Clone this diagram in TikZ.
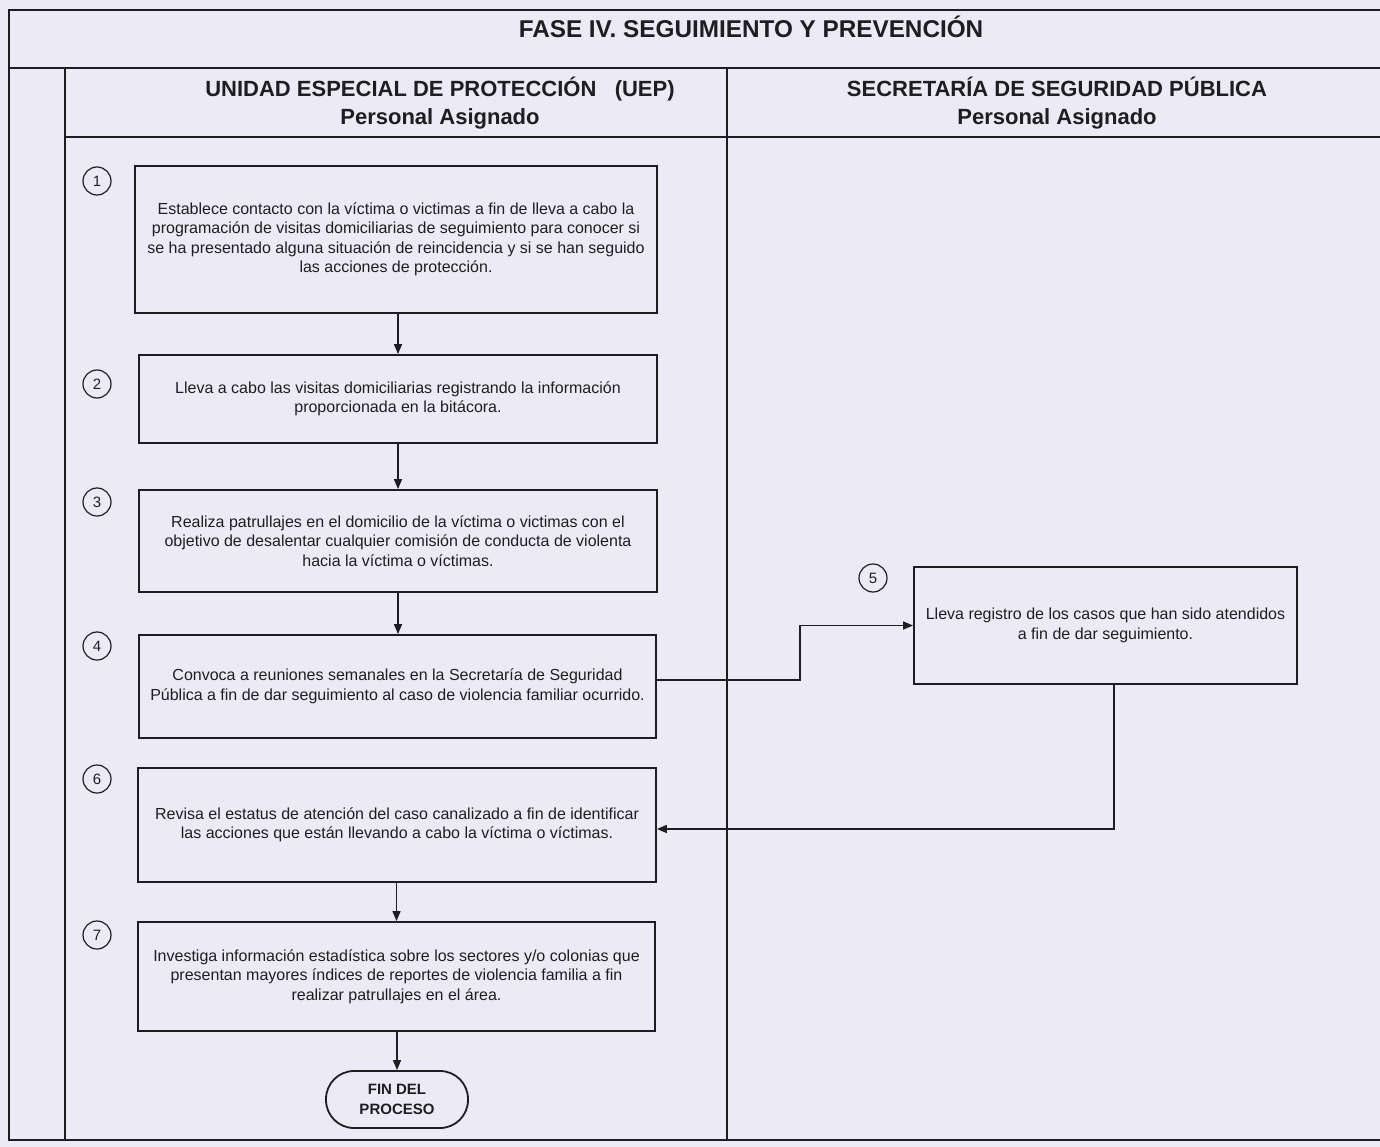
\documentclass[tikz,border=0pt]{standalone}
\usepackage{fontspec}
\setmainfont{Liberation Sans}
\usetikzlibrary{arrows.meta,calc}
\definecolor{bgc}{RGB}{236,235,245}
\definecolor{lnc}{RGB}{30,30,34}
\begin{document}
\begin{tikzpicture}[x=1pt,y=-1pt,
  frame/.style={draw=lnc,line width=2pt},
  stepbox/.style={draw=lnc,line width=1.8pt,align=center,inner sep=0pt,
     font=\fontsize{16}{19.5}\selectfont,text=lnc},
  num/.style={draw=lnc,circle,line width=1.2pt,minimum size=28pt,inner sep=0pt,
     font=\fontsize{15}{16}\selectfont,text=lnc},
  arr/.style={draw=lnc,line width=1.5pt,-{Triangle[length=10pt,width=8pt]}},
  hdr/.style={font=\fontsize{22}{28}\selectfont\bfseries,text=lnc,align=center}]
\fill[bgc] (0,0) rectangle (1380,1147);
\useasboundingbox (0,0) rectangle (1380,1147);
% frame
\draw[frame] (1390,10) -- (9,10) -- (9,1140) -- (1390,1140);
\draw[frame] (9,68) -- (1390,68);
\draw[frame] (65,137) -- (1390,137);
\draw[frame] (65,68) -- (65,1140);
\draw[frame] (727,68) -- (727,1140);
% headers
\node[hdr,font=\fontsize{24.3}{28}\selectfont\bfseries] (title) at (751,27) {FASE IV. SEGUIMIENTO Y PREVENCIÓN};
\node[hdr] (h1) at (440,103) {UNIDAD ESPECIAL DE PROTECCIÓN \ \ (UEP)\\Personal Asignado};
\node[hdr] (h2) at (1057,103) {SECRETARÍA DE SEGURIDAD PÚBLICA\\Personal Asignado};
% boxes
\node[stepbox,minimum width=522pt,minimum height=147pt] (b1) at (396,239.5)
 {Establece contacto con la víctima o victimas a fin de lleva a cabo la\\
  programación de visitas domiciliarias de seguimiento para conocer si\\
  se ha presentado alguna situación de reincidencia y si se han seguido\\
  las acciones de protección.};
\node[stepbox,minimum width=518pt,minimum height=88pt] (b2) at (398,399)
 {Lleva a cabo las visitas domiciliarias registrando la información\\
  proporcionada en la bitácora.};
\node[stepbox,minimum width=518pt,minimum height=102pt] (b3) at (398,541)
 {Realiza patrullajes en el domicilio de la víctima o victimas con el\\
  objetivo de desalentar cualquier comisión de conducta de violenta\\
  hacia la víctima o víctimas.};
\node[stepbox,minimum width=517pt,minimum height=103pt] (b4) at (397.5,686.5)
 {Convoca a reuniones semanales en la Secretaría de Seguridad\\
  Pública a fin de dar seguimiento al caso de violencia familiar ocurrido.};
\node[stepbox,minimum width=383pt,minimum height=117pt] (b5) at (1105.5,625.5)
 {Lleva registro de los casos que han sido atendidos\\
  a fin de dar seguimiento.};
\node[stepbox,minimum width=518pt,minimum height=114pt] (b6) at (397,825)
 {Revisa el estatus de atención del caso canalizado a fin de identificar\\
  las acciones que están llevando a cabo la víctima o víctimas.};
\node[stepbox,minimum width=517pt,minimum height=109pt] (b7) at (396.5,976.5)
 {Investiga información estadística sobre los sectores y/o colonias que\\
  presentan mayores índices de reportes de violencia familia a fin\\
  realizar patrullajes en el área.};
\node[stepbox,minimum width=142pt,minimum height=57pt,rounded corners=28pt,
  font=\fontsize{15}{20}\selectfont\bfseries] (fin) at (397,1099.5) {FIN DEL\\PROCESO};
% numbers
\node[num] (n1) at (97,181) {1};
\node[num] (n2) at (97,384) {2};
\node[num] (n3) at (97,502) {3};
\node[num] (n4) at (97,646) {4};
\node[num] (n5) at (873,578) {5};
\node[num] (n6) at (97,779) {6};
\node[num] (n7) at (97,935) {7};
% connectors
\draw[arr] (b1.south-|b2.north) -- (b2.north);
\draw[arr] (b2) -- (b3);
\draw[arr] (b3.south) -- (b4.north-|b3.south);
\coordinate (j1) at (800,680);
\draw[arr] (b4.east|-j1) -- (j1) |- (b5.west);
\coordinate (j2) at (1114,829);
\draw[arr] (b5.south-|j2) -- (j2) -- (b6.east|-j2);
\draw[arr] (b6.south-|b7.north) -- (b7.north);
\draw[arr] (b7.south-|fin.north) -- (fin.north);
\end{tikzpicture}
\end{document}
